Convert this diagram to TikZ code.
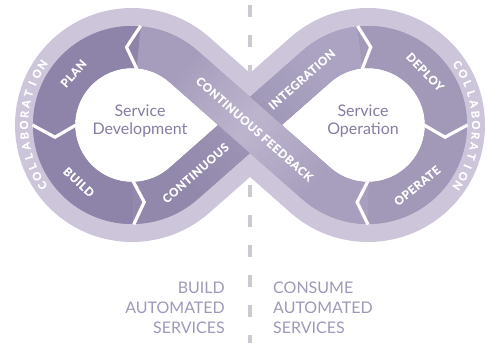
\documentclass[tikz,border=0pt]{standalone}
\usepackage{fontspec}
\setmainfont{Lato}
\newfontfamily\labelfont[LetterSpace=6,FakeBold=0.8]{Lato Bold}
\newfontfamily\collabfont[FakeBold=0.4]{Lato Bold}
\usetikzlibrary{calc}
\definecolor{lightband}{HTML}{CDC6DB}
\definecolor{planc}{HTML}{8E83A8}
\definecolor{deployc}{HTML}{A299B9}
\definecolor{basec}{HTML}{9D94B5}
\definecolor{fbA}{HTML}{A89FBE}
\definecolor{fbB}{HTML}{BDB5CE}
\definecolor{fbC}{HTML}{A69DBC}
\definecolor{inA}{HTML}{9288AC}
\definecolor{inB}{HTML}{ABA3C1}
\definecolor{titlec}{HTML}{877CA2}
\definecolor{bottomc}{HTML}{A098B9}
\definecolor{dashc}{HTML}{CCC9D3}
\newcommand{\gradseg}[4]{%
  \foreach \gi in {0,...,39}{%
    \pgfmathsetmacro{\ga}{\gi/40}%
    \pgfmathsetmacro{\gb}{min(1,(\gi+1.4)/40)}%
    \pgfmathtruncatemacro{\gp}{round(100-100*(\gi+0.5)/40)}%
    \draw[line width=42, line cap=butt, color=#3!\gp!#4] ($(#1)!\ga!(#2)$) -- ($(#1)!\gb!(#2)$);
  }}
\tikzset{
  darkarc/.style={line width=42, line cap=butt},
  chevron/.style={draw=white, line width=3.2, line join=miter, line cap=butt},
  lbl/.style={text=white, font=\labelfont\fontsize{11.5}{12}\selectfont, inner sep=0},
  collab/.style={text=white, font=\collabfont\fontsize{11}{12}\selectfont, inner sep=0},
  titletext/.style={text=titlec, font=\fontsize{16}{18}\selectfont, align=center, inner sep=0},
  bottomtext/.style={text=bottomc, font=\fontsize{16}{20}\selectfont, inner sep=0}
}
\begin{document}
\begin{tikzpicture}[x=1pt,y=1pt]
\useasboundingbox (0,0) rectangle (487,343);
\coordinate (C1) at (132,218);
\coordinate (C2) at (368,218);
\coordinate (X) at (250,218);
\coordinate (TL1) at ($(C1)+(48.62:78)$);
\coordinate (TL2) at ($(C1)+(-48.62:78)$);
\coordinate (TR1) at ($(C2)+(131.38:78)$);
\coordinate (TR2) at ($(C2)+(-131.38:78)$);
% dashed divider
\coordinate (dtop) at (250,338);
\coordinate (dbot) at (250,0);
\draw[dashc, line width=4, dash pattern=on 12 off 18] (dtop) -- (dbot);
% light collaboration band
\draw[lightband, line width=78, line join=round]
  (X) -- (TL1) arc[start angle=48.62, end angle=311.38, radius=78] -- (X)
  -- (TR1) arc[start angle=131.38, end angle=-131.38, radius=78] -- cycle;
% white interiors
\fill[white] (C1) circle[radius=57];
\fill[white] ($(C1)+(48.62:57)$) -- (218.23,218) -- ($(C1)+(-48.62:57)$) -- (C1) -- cycle;
\fill[white] (C2) circle[radius=57];
\fill[white] ($(C2)+(131.38:57)$) -- (281.77,218) -- ($(C2)+(-131.38:57)$) -- (C2) -- cycle;
% base dark band
\draw[basec, line width=42, line join=round]
  (X) -- (TL1) arc[start angle=48.62, end angle=311.38, radius=78] -- (X)
  -- (TR1) arc[start angle=131.38, end angle=-131.38, radius=78] -- cycle;
% arcs
\draw[darkarc, planc] ($(C1)+(85:78)$) arc[start angle=85, end angle=271, radius=78];
\draw[darkarc, deployc] ($(C2)+(96:78)$) arc[start angle=96, end angle=-90, radius=78];
\draw[darkarc, inA] ($(C1)+(271:78)$) arc[start angle=271, end angle=311.38, radius=78];
\draw[darkarc, inB] ($(C2)+(131.38:78)$) arc[start angle=131.38, end angle=96, radius=78];
\draw[darkarc, fbA] ($(C2)+(-90:78)$) arc[start angle=-90, end angle=-131.38, radius=78];
\draw[darkarc, fbC] ($(C1)+(48.62:78)$) arc[start angle=48.62, end angle=85, radius=78];
% straight parts
\gradseg{TL2}{TR1}{inA}{inB}
\gradseg{TR2}{X}{fbA}{fbB}
\gradseg{X}{TL1}{fbB}{fbC}
% chevron separators
\draw[chevron] ($(C1)+(85:99.5)$) -- ($(C1)+(94:78)$) -- ($(C1)+(85:56)$);
\draw[chevron] ($(C1)+(180:99.5)$) -- ($(C1)+(189:78)$) -- ($(C1)+(180:56)$);
\draw[chevron] ($(C1)+(271:99.5)$) -- ($(C1)+(279:78)$) -- ($(C1)+(271:56)$);
\draw[chevron] ($(C2)+(96:99.5)$) -- ($(C2)+(88:78)$) -- ($(C2)+(96:56)$);
\draw[chevron] ($(C2)+(0:99.5)$) -- ($(C2)+(-9:78)$) -- ($(C2)+(0:56)$);
\draw[chevron] ($(C2)+(-90:99.5)$) -- ($(C2)+(-98:78)$) -- ($(C2)+(-90:56)$);
% band labels
\node[lbl, rotate=48.6] (plan) at ($(C1)+(138.6:78)$) {PLAN};
\node[lbl, rotate=-43] (build) at ($(C1)+(227:78)$) {BUILD};
\node[lbl, rotate=41.38] (cont) at ($(TL2)!0.09!(TR1)$) {CONTINUOUS};
\node[lbl, rotate=41.38] (integ) at ($(TL2)!0.89!(TR1)$) {INTEGRATION};
\node[lbl, rotate=-41.38] (feedback) at ($(X)+(-41.38:6)$) {CONTINUOUS FEEDBACK};
\node[lbl, rotate=-46] (deploy) at ($(C2)+(43:78)$) {DEPLOY};
\node[lbl, rotate=39] (operate) at ($(C2)+(-51:78)$) {OPERATE};
% collaboration
\foreach \ch [count=\i from 0] in {C,O,L,L,A,B,O,R,A,T,I,O,N}{
  \pgfmathsetmacro{\angl}{214-\i*68/12}
  \pgfmathsetmacro{\rotl}{\angl-90}
  \node[collab, rotate=\rotl] (cl\i) at ($(C1)+(\angl:108)$) {\ch};
  \pgfmathsetmacro{\angr}{34-\i*68/12}
  \pgfmathsetmacro{\rotr}{\angr-90}
  \node[collab, rotate=\rotr] (cr\i) at ($(C2)+(\angr:108)$) {\ch};
}
% titles
\node[titletext] (sdev) at (140,222) {Service\\Development};
\node[titletext] (sop) at (363,222) {Service\\Operation};
% bottom texts
\node[bottomtext, anchor=east, align=right] (buildauto) at (225,35) {BUILD\\AUTOMATED\\SERVICES};
\node[bottomtext, anchor=west, align=left] (consume) at (273,35) {CONSUME\\AUTOMATED\\SERVICES};
\end{tikzpicture}
\end{document}
